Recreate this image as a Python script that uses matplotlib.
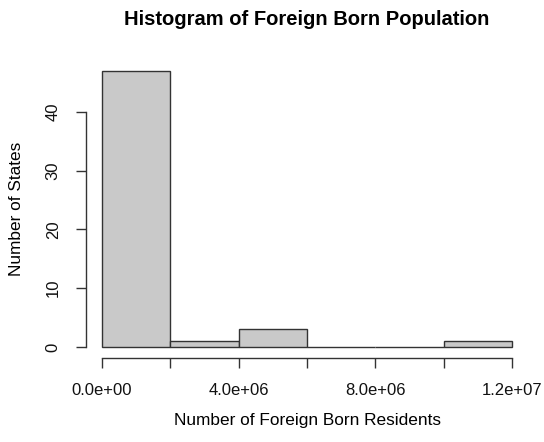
import matplotlib.pyplot as plt

plt.rcParams['font.family'] = ['Liberation Sans', 'DejaVu Sans']

# binned counts of states by foreign-born residents
bin_edges = [0, 2e6, 4e6, 6e6, 8e6, 10e6, 12e6]
state_counts = [47, 1, 3, 0, 0, 1]
x_ticks = [0, 2e6, 4e6, 6e6, 8e6, 10e6, 12e6]
x_labels = ['0.0e+00', '', '4.0e+06', '', '8.0e+06', '', '1.2e+07']
y_ticks = [0, 10, 20, 30, 40]

fig = plt.figure(figsize=(5.44, 4.42), dpi=100)
ax = fig.add_axes([0.1574, 0.19, 0.8139, 0.6747])

widths = [b - a for a, b in zip(bin_edges[:-1], bin_edges[1:])]
ax.bar(bin_edges[:-1], state_counts, width=widths, align='edge',
       color='#c9c9c9', edgecolor='#333333', linewidth=1.0)

ax.set_xlim(-0.48e6, 12.48e6)
ax.set_ylim(-1.88, 48.88)

for s in ['top', 'right']:
    ax.spines[s].set_visible(False)
ax.spines['left'].set_bounds(0, 40)
ax.spines['bottom'].set_bounds(0, 12e6)
for s in ['left', 'bottom']:
    ax.spines[s].set_color('#333333')
    ax.spines[s].set_linewidth(1.0)

ax.set_xticks(x_ticks)
ax.set_xticklabels(x_labels)
ax.set_yticks(y_ticks)
ax.set_yticklabels([str(v) for v in y_ticks], rotation=90, va='center')
ax.tick_params(axis='both', length=7, width=1.0, color='#333333',
               labelsize=12, labelcolor='#111111', pad=11)

ax.set_xlabel('Number of Foreign Born Residents', fontsize=12.4, labelpad=10.5)
ax.set_ylabel('Number of States', fontsize=12.4, labelpad=15.5)

# title centred over the plot region
box = ax.get_position()
fig.text((box.x0 + box.x1) / 2, 0.957, 'Histogram of Foreign Born Population',
         ha='center', va='center', fontsize=14.5, fontweight='bold')

fig.savefig('out.png', dpi=100, facecolor='white')
